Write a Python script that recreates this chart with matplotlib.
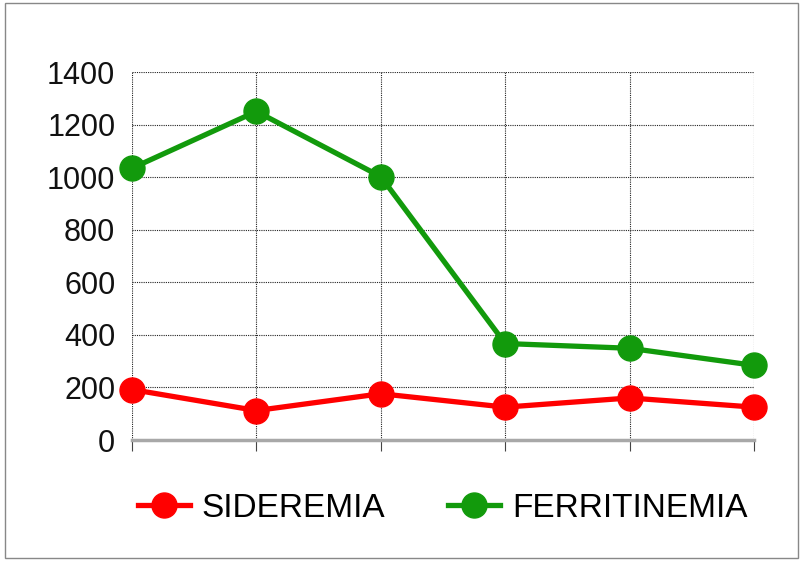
import matplotlib.pyplot as plt
from matplotlib.patches import Rectangle

plt.rcParams['font.family'] = ['Liberation Sans', 'DejaVu Sans']

# data
punti = [1, 2, 3, 4, 5, 6]
sideremia = [192, 112, 176, 125, 160, 125]
ferritinemia = [1034, 1250, 1002, 367, 349, 284]
y_ticks = [0, 200, 400, 600, 800, 1000, 1200, 1400]

rosso = '#FF0000'
verde = '#129A0C'


def main():
    fig = plt.figure(figsize=(8.02, 5.62), dpi=100)
    ax = fig.add_axes([132 / 802, 1 - 440 / 562, (754 - 132) / 802, (440 - 72) / 562])

    ax.plot(punti, sideremia, color=rosso, lw=3.8, marker='o', ms=18,
            label='SIDEREMIA', clip_on=False, zorder=3)
    ax.plot(punti, ferritinemia, color=verde, lw=3.8, marker='o', ms=18,
            label='FERRITINEMIA', clip_on=False, zorder=3)

    ax.set_xlim(punti[0], punti[-1])
    ax.set_ylim(0, 1400)
    ax.set_yticks(y_ticks)
    ax.set_xticks(punti)
    ax.set_xticklabels([])

    # grid
    ax.grid(True, color='#222222', linestyle=(0, (1, 1)), linewidth=0.8)
    ax.set_axisbelow(True)

    for s in ['top', 'right', 'left']:
        ax.spines[s].set_visible(False)
    ax.spines['bottom'].set_color('#A8A8A8')
    ax.spines['bottom'].set_linewidth(2.5)

    ax.tick_params(axis='y', length=0, pad=12, labelsize=22, labelcolor='#111111')
    ax.tick_params(axis='x', length=8, width=0.8, color='#444444', direction='out')

    fig.legend(loc='center', bbox_to_anchor=(0.552, 0.096), ncol=2, frameon=False,
               fontsize=24, handlelength=1.55, handletextpad=0.35, columnspacing=1.9)

    # outer frame
    fig.patches.append(Rectangle((5 / 802, 1 - 558 / 562), 793 / 802, 555 / 562,
                                 transform=fig.transFigure, fill=False,
                                 edgecolor='#888888', linewidth=1))

    fig.savefig('out.png', dpi=100)


main()
